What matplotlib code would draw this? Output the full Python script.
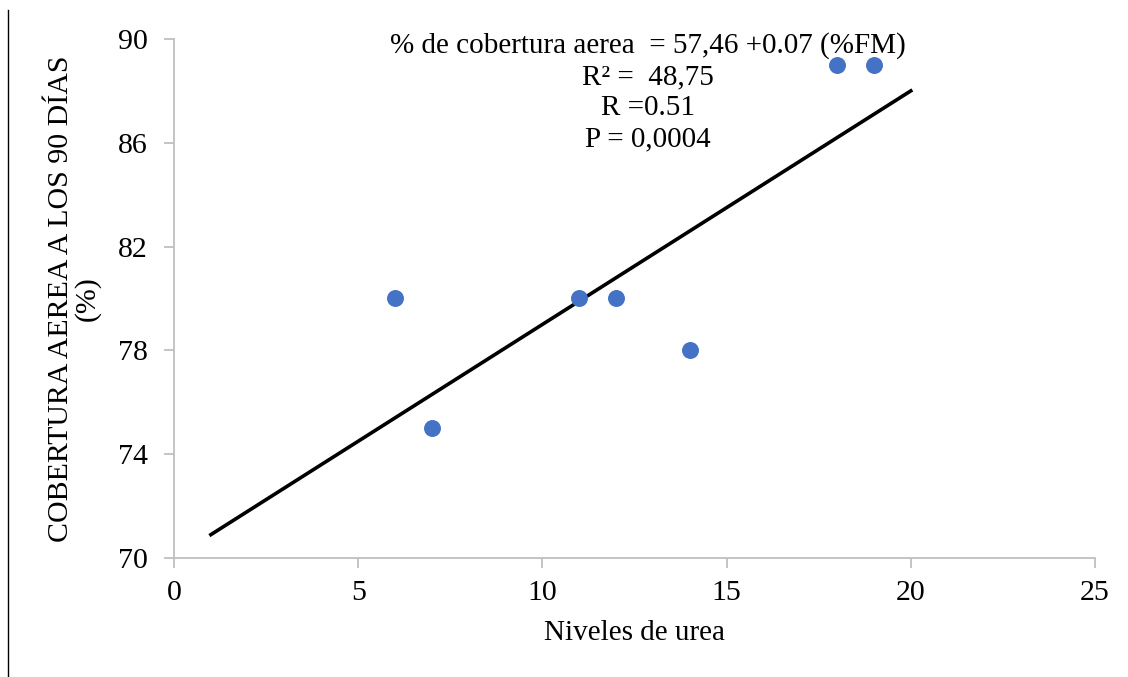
import matplotlib.pyplot as plt
from matplotlib.lines import Line2D

plt.rcParams['font.family'] = ['Liberation Serif', 'DejaVu Serif']

# datos
niveles_urea = [6, 7, 11, 12, 14, 18, 19]
cobertura = [80, 75, 80, 80, 78, 89, 89]

# linea de tendencia (extremos)
tendencia_x = [1, 20]
tendencia_y = [70.9, 88.0]

ecuacion = ['% de cobertura aerea  = 57,46 +0.07 (%FM)',
            'R² =  48,75',
            'R =0.51',
            'P = 0,0004']

fig = plt.figure(figsize=(11.28, 6.77), dpi=100)
ax = fig.add_axes([0.1543, 0.1758, 0.8164, 0.7666])

gris = '#bfbfbf'
ax.scatter(niveles_urea, cobertura, s=125, color='#4472C4', zorder=3)
ax.plot(tendencia_x, tendencia_y, color='black', linewidth=2.6, zorder=2)

ax.set_xlim(0, 25)
ax.set_ylim(70, 90)
ax.set_xticks(range(0, 26, 5))
ax.set_yticks(range(70, 91, 4))

for lado in ['top', 'right']:
    ax.spines[lado].set_visible(False)
for lado in ['left', 'bottom']:
    ax.spines[lado].set_color(gris)
    ax.spines[lado].set_linewidth(1.3)
ax.tick_params(axis='both', colors=gris, labelcolor='black', labelsize=21.5,
               length=7, width=1.3)
ax.tick_params(axis='y', pad=12)
ax.tick_params(axis='x', pad=9)

ax.set_xlabel('Niveles de urea', fontsize=21, labelpad=10)
ax.set_ylabel('COBERTURA AEREA A LOS 90 DÍAS\n(%)', fontsize=21.5,
              labelpad=12, linespacing=1.0)

fig.text(0.5745, 0.953, '\n'.join(ecuacion), ha='center', va='top',
         fontsize=21, linespacing=1.26)

# borde izquierdo de la imagen
fig.add_artist(Line2D([0.0075, 0.0075], [0.0, 0.985], transform=fig.transFigure,
                      color='black', linewidth=1))

plt.savefig('out.png', dpi=100)
